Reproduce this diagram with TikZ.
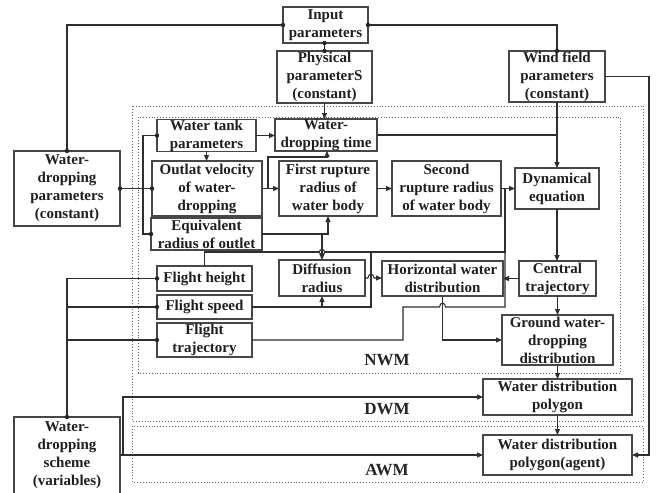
\documentclass[tikz,border=0pt]{standalone}
\usepackage{fontspec}
\setmainfont{Liberation Serif}
\usetikzlibrary{arrows.meta,calc}
\newcommand\jdot[1]{\fill[black!85] (#1) circle (2.2pt);}
\begin{document}
\begin{tikzpicture}[x=1pt,y=-1pt,
 box/.style={draw=black!72,line width=1.2pt,inner sep=0pt,outer sep=0pt,align=center,
   font=\fontsize{15}{18}\selectfont\bfseries,text=black!88},
 conn/.style={draw=black!82,line width=1.1pt},
 arr/.style={conn,-{Triangle[length=6pt,width=5pt]}},
 region/.style={draw=black!60,dotted,line width=0.9pt},
 lbl/.style={font=\fontsize{17}{20}\selectfont\bfseries,text=black!85,inner sep=0pt}]
\useasboundingbox[fill=white] (0,0) rectangle (657,493);

% dotted model regions
\draw[region] (132,106) rectangle (643,421);
\draw[region] (138,117) rectangle (620,373);
\draw[region] (132,426) rectangle (643,482);
\node[lbl] (nwm) at (387,360) {NWM};
\node[lbl] (dwm) at (387,409) {DWM};
\node[lbl] (awm) at (387,470) {AWM};

% boxes
\node[box,minimum width=85pt,minimum height=36pt] (inp) at (325.5,25) {Input\\parameters};
\node[box,minimum width=95pt,minimum height=52pt] (phys) at (324.5,77) {Physical\\parameterS\\(constant)};
\node[box,minimum width=96pt,minimum height=51pt] (wind) at (557,76.5) {Wind field\\parameters\\(constant)};
\node[box,minimum width=106pt,minimum height=75pt] (wdp) at (67,188.5) {Water-\\dropping\\parameters\\(constant)};
\node[box,minimum width=99pt,minimum height=31pt] (tank) at (206.5,135.5) {Water tank\\parameters};
\node[box,minimum width=102pt,minimum height=32pt] (wdt) at (326,135) {Water-\\dropping time};
\node[box,minimum width=110pt,minimum height=55pt] (outlat) at (207,188.5) {Outlat velocity\\of water-\\dropping};
\node[box,minimum width=98pt,minimum height=55pt] (first) at (328,188.5) {First rupture\\radius of\\water body};
\node[box,minimum width=109pt,minimum height=55pt] (second) at (446.5,188.5) {Second\\rupture radius\\of water body};
\node[box,minimum width=84pt,minimum height=41pt] (dyn) at (557,188.5) {Dynamical\\equation};
\node[box,minimum width=111pt,minimum height=32pt] (equiv) at (206.5,234) {Equivalent\\radius of outlet};
\node[box,minimum width=95pt,minimum height=25pt] (fh) at (204.5,278.5) {Flight height};
\node[box,minimum width=95pt,minimum height=24pt] (fs) at (204.5,307) {Flight speed};
\node[box,minimum width=95pt,minimum height=34pt] (ft) at (204.5,340) {Flight\\trajectory};
\node[box,minimum width=86pt,minimum height=36pt] (diff) at (322,278) {Diffusion\\radius};
\node[box,minimum width=121pt,minimum height=35pt] (hor) at (442.5,278.5) {Horizontal water\\distribution};
\node[box,minimum width=77pt,minimum height=35pt] (cen) at (557.5,278.5) {Central\\trajectory};
\node[box,minimum width=111pt,minimum height=50pt] (gnd) at (557.5,340) {Ground water-\\dropping\\distribution};
\node[box,minimum width=149pt,minimum height=36pt] (wdpoly) at (557.5,397) {Water distribution\\polygon};
\node[box,minimum width=149pt,minimum height=40pt] (agent) at (557.5,455) {Water distribution\\polygon(agent)};
\node[box,minimum width=106pt,minimum height=77pt] (scheme) at (67,455.5) {Water-\\dropping\\scheme\\(variables)};

% top connectors
\draw[conn] (inp.west) -| (wdp.north);
\jdot{inp.west}\jdot{wdp.north}
\draw[conn] (inp.east) -| (wind.north);
\jdot{inp.east}\jdot{wind.north}
\draw[conn] (phys.north |- inp.south) -- (phys.north);
\jdot{phys.north |- inp.south}\jdot{phys.north}
\draw[arr] (phys.south) -- (phys.south |- wdt.north);
\draw[arr] (wind.south) -- (dyn.north);
\draw[conn] (wdt.east) -- (wdt.east -| wind.south);
\coordinate (wr) at (649,76.5);
\draw[arr] (wind.east) -- (wr) |- (agent.east);

% water-dropping parameters
\draw[conn] (wdp.east) -- (outlat.west);
\jdot{wdp.east}\jdot{outlat.west}
\coordinate (lb) at (143,135.5);
\draw[conn] (tank.west) -- (lb) |- (equiv.west);
\jdot{tank.west}\jdot{equiv.west}

% inner flow
\draw[arr] (tank.east) -- (tank.east -| wdt.west);
\draw[arr] (tank.south) -- (tank.south |- outlat.north);
\draw[arr] (outlat.east) -- (first.west);
\coordinate (j1) at (268,188.5);
\coordinate (j1b) at (327,157);
\draw[arr] (j1) |- (j1b) -- (j1b |- wdt.south);
\draw[arr] (first.east) -- (second.west);
\draw[arr] (second.east) -- (dyn.west);
\draw[arr] (equiv.east) -| (first.south);

% bus from flight height to dynamical equation
\coordinate (b1) at (505,252);
\draw[conn] (fh.north) |- (b1) -- (b1 |- second.east);
\draw[conn,fill=white] (322,252) circle (2.6pt);
\coordinate (j2) at (322,234);
\draw[arr] (j2) -- (diff.north);

% flight speed
\coordinate (fs1) at (371,307);
\draw[conn] (fs.east) -- (fs1) -- (fs1 |- b1);
\draw[arr] (diff.south |- fs.east) -- (diff.south);

% flight trajectory
\coordinate (ft1) at (403,340);
\draw[conn] (ft.east) -- (ft1) -- (403,307) -- (439.5,307) .. controls (439.5,302) and (445.5,302) .. (445.5,307) -- (505,307) -- (b1);

% diffusion -> horizontal (with hop)
\draw[arr] (diff.east) -- (368,278) .. controls (368,273) and (374,273) .. (374,278) -- (hor.west |- diff.east);

\draw[arr] (cen.west) -- (hor.east);
\draw[arr] (dyn.south) -- (dyn.south |- cen.north);
\draw[arr] (cen.south) -- (cen.south |- gnd.north);
\draw[arr] (hor.south) |- (gnd.west);
\draw[arr] (gnd.south) -- (wdpoly.north);
\draw[arr] (wdpoly.south) -- (agent.north);

% water-dropping scheme
\coordinate (sv) at (67,278.5);
\draw[conn] (scheme.north) -- (sv) -- (fh.west);
\draw[conn] (sv |- fs.west) -- (fs.west);
\draw[conn] (sv |- ft.west) -- (ft.west);
\jdot{scheme.north}\jdot{fh.west}\jdot{fs.west}\jdot{ft.west}
\draw[arr] (scheme.east |- agent.west) -- (agent.west);
\coordinate (sr) at (123,455);
\draw[arr] (sr) |- (wdpoly.west);
\end{tikzpicture}
\end{document}
